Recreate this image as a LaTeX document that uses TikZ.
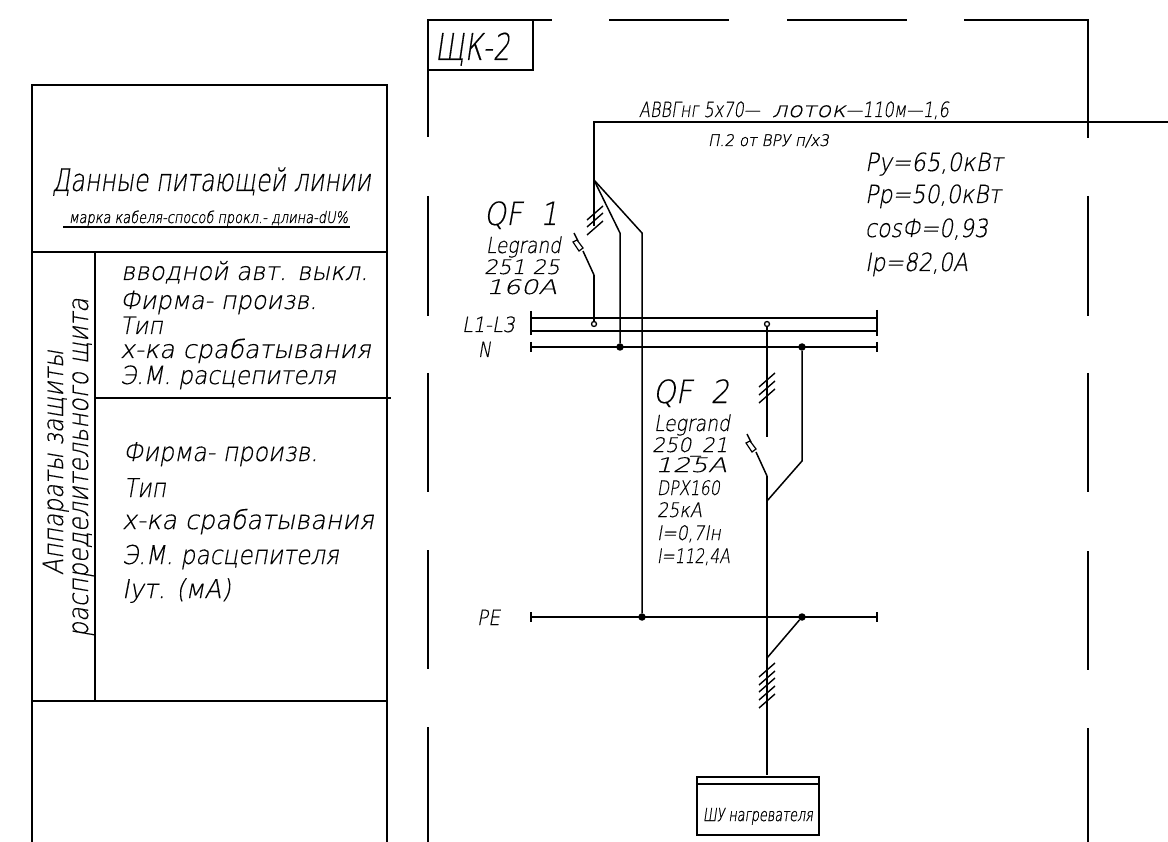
\documentclass[tikz,border=0pt]{standalone}
\usepackage{fontspec}
\usepackage{graphicx}
\newfontfamily\cadfont{DejaVu Sans ExtraLight}[FakeSlant=0.2,FakeBold=0.35]
\newfontfamily\cadheavy{DejaVu Sans ExtraLight}[FakeSlant=0.2,FakeBold=1.1]
\newsavebox\cadbox
\newlength\cadlen
\newcommand\cadfit[2]{\sbox\cadbox{#2}\setlength\cadlen{\wd\cadbox}\pgfmathsetmacro\cadsx{#1/\cadlen}\scalebox{\cadsx}[1]{\usebox\cadbox}}
% [options]{name}{x}{y}{width}{size}{text}
\newcommand\lab[7][]{\node[cadtext,#1] (#2) at (#3,#4) {\fontsize{#6}{#6}\cadfont\cadfit{#5}{#7}};}
\newcommand\labh[6]{\node[cadtext] (#1) at (#2,#3) {\fontsize{#5}{#5}\cadheavy\cadfit{#4}{#6}};}
\tikzset{
 cadtext/.style={anchor=base west,inner sep=0pt,outer sep=0pt,text=black},
 wire/.style={line width=1.5pt,black,line cap=butt},
 busend/.style={line width=1.3pt,black},
 thickwire/.style={line width=1.9pt,black},
 framewire/.style={line width=1.8pt,black},
 tablewire/.style={line width=1.7pt,black},
 dotnode/.style={circle,fill=black,inner sep=0pt,minimum size=7.5pt},
 ringnode/.style={circle,draw=black,line width=1.3pt,fill=none,inner sep=0pt,minimum size=5pt},
 breaker/.pic={
  \draw[wire] (0,0)--(-11,-24);
  \draw[line width=1.2pt] (-21,-33)--(-17,-35)--(-11,-27)--(-15,-24)--cycle;
  \draw[wire] (-20,-42)--(-16,-34);
 }
}
\newcommand\crosstick[2]{\draw[line width=1.4pt] (#1-8,#2+7)--(#1+8,#2-7);}
\begin{document}
\begin{tikzpicture}[x=1pt,y=-1pt]
\useasboundingbox[fill=white] (0,0) rectangle (1168,842);
% ---------- left table
\draw[tablewire] (32,842)--(32,85)--(387,85)--(387,842);
\draw[tablewire] (32,252)--(387,252);
\draw[tablewire] (95,252)--(95,701);
\draw[tablewire] (95,398)--(391,398);
\draw[tablewire] (32,701)--(387,701);
\draw[line width=1.3pt] (63,227)--(350,227);
\lab{t1}{52}{191}{319}{31}{Данные питающей линии}
\labh{t2}{69}{223}{279}{16}{марка кабеля-способ прокл.- длина-dU\%}
\lab{a1}{121}{280}{247}{25}{вводной авт. выкл.}
\lab{a2}{120}{309}{197}{25}{Фирма- произв.}
\lab{a3}{120}{334}{43}{24}{Тип}
\lab{a4}{120}{358}{251}{25}{х-ка срабатывания}
\lab{a5}{120}{384}{216}{25}{Э.М. расцепителя}
\lab{b1}{123}{461}{195}{26}{Фирма- произв.}
\lab{b2}{124}{497}{42}{26}{Тип}
\lab{b3}{122}{529}{252}{26}{х-ка срабатывания}
\lab{b4}{122}{564}{217}{26}{Э.М. расцепителя}
\lab{b5}{122}{598}{109}{26}{Iут. (мА)}
\lab[rotate=90]{r1}{63}{575}{225}{28}{Аппараты защиты}
\lab[rotate=90]{r2}{88}{637}{339}{28}{распределительного щита}
% ---------- panel frame
\draw[framewire] (428,137)--(428,19.7)--(552,19.7);
\draw[framewire] (609,19.7)--(729,19.7);
\draw[framewire] (787,19.7)--(907,19.7);
\draw[framewire] (964,19.7)--(1088,19.7)--(1088,138);
\draw[framewire] (428,196)--(428,316);
\draw[framewire] (428,373)--(428,492);
\draw[framewire] (428,550)--(428,669);
\draw[framewire] (428,727)--(428,842);
\draw[framewire] (1088,196)--(1088,316);
\draw[framewire] (1088,373)--(1088,492);
\draw[framewire] (1088,551)--(1088,670);
\draw[framewire] (1088,728)--(1088,842);
\draw[framewire] (428,70)--(533,70)--(533,19.7);
\lab{shk}{435}{60}{75}{37}{ЩК-2}
% ---------- named junctions
\coordinate (feedEnd) at (1168,122);
\coordinate (feedCorner) at (594,122);
\coordinate (fan) at (594,180);
\coordinate (mainEnd) at (594,226);
\coordinate (n1top) at (620,233);
\coordinate (pe1top) at (642,233);
\node[ringnode] (ring1) at (594,324) {};
\node[dotnode] (dotN1) at (620,347) {};
\node[dotnode] (dotN2) at (802,347) {};
\node[dotnode] (dotPE1) at (642,617) {};
\node[dotnode] (dotPE2) at (802,617) {};
\node[ringnode] (ring2) at (767,324) {};
\coordinate (sw1) at (594,275);
\coordinate (sw2) at (767,476);
\coordinate (qf2top) at (767,437);
\coordinate (join2) at (767,501);
\coordinate (n2knee) at (802,461);
\coordinate (join3) at (767,658);
% ---------- busbars
\draw[busend] (531,311)--(531,335);
\draw[busend] (531,342)--(531,352);
\draw[busend] (877,310)--(877,336);
\draw[busend] (877,342)--(877,352);
\draw[wire] (531,318)--(877,318);
\draw[wire] (531,331)--(877,331);
\draw[wire] (531,347)--(877,347);
\draw[wire] (531,617)--(877,617);
\draw[busend] (531,612)--(531,622);
\draw[busend] (877,612)--(877,622);
% ---------- QF1
\draw[wire] (feedEnd)--(feedCorner)--(mainEnd);
\draw[wire] (fan)--(n1top)--(dotN1);
\draw[wire] (fan)--(pe1top)--(dotPE1);
\draw[wire] (sw1)--(ring1);
\pic at (sw1) {breaker};
\crosstick{595}{213}\crosstick{595}{220}\crosstick{595}{228}
% ---------- QF2
\draw[wire] (ring2)--(qf2top);
\draw[wire] (sw2)--(767,775);
\pic at (sw2) {breaker};
\draw[wire] (dotN2)--(n2knee)--(join2);
\draw[wire] (dotPE2)--(join3);
\crosstick{767}{380}\crosstick{767}{388}\crosstick{767}{396}
\crosstick{767}{670}\crosstick{767}{678}\crosstick{767}{685}\crosstick{767}{693}\crosstick{767}{701}
% ---------- load box
\draw[thickwire] (697,777) rectangle (819,835);
\draw[wire] (697,784)--(819,784);
\labh{load}{703}{821}{110}{18}{ШУ нагревателя}
% ---------- labels
\lab{c1}{639}{117}{121}{21}{АВВГнг 5х70—}
\lab{c2}{772}{117}{74}{21}{лоток}
\lab{c3}{846}{117}{103}{21}{—110м—1,6}
\labh{c4}{708}{146}{121}{16}{П.2 от ВРУ п/х3}
\lab{p1}{865}{171}{138}{25}{Ру=65,0кВт}
\lab{p2}{865}{203}{136}{25}{Рр=50,0кВт}
\lab{p3}{865}{237}{123}{25}{cosФ=0,93}
\lab{p4}{865}{271}{103}{25}{Iр=82,0А}
\lab{q1}{484}{225}{74}{32}{QF\ \ 1}
\lab{q2}{486}{253}{75}{22}{Legrand}
\lab{q3}{484}{274}{76}{20}{251 25}
\lab{q4}{486}{294}{71}{20}{160А}
\lab{bus1}{462}{332}{53}{21}{L1-L3}
\lab{bus2}{478}{357}{13}{21}{N}
\lab{bus3}{477}{625}{23}{21}{PE}
\lab{w1}{653}{403}{76}{32}{QF\ \ 2}
\lab{w2}{654}{431}{76}{22}{Legrand}
\lab{w3}{652}{452}{76}{20}{250\_21}
\lab{w4}{655}{472}{72}{20}{125А}
\lab{w5}{657}{495}{63}{20}{DPX160}
\lab{w6}{657}{517}{45}{20}{25кА}
\lab{w7}{657}{540}{64}{20}{I=0,7Iн}
\lab{w8}{657}{563}{73}{20}{I=112,4А}
\end{tikzpicture}
\end{document}
